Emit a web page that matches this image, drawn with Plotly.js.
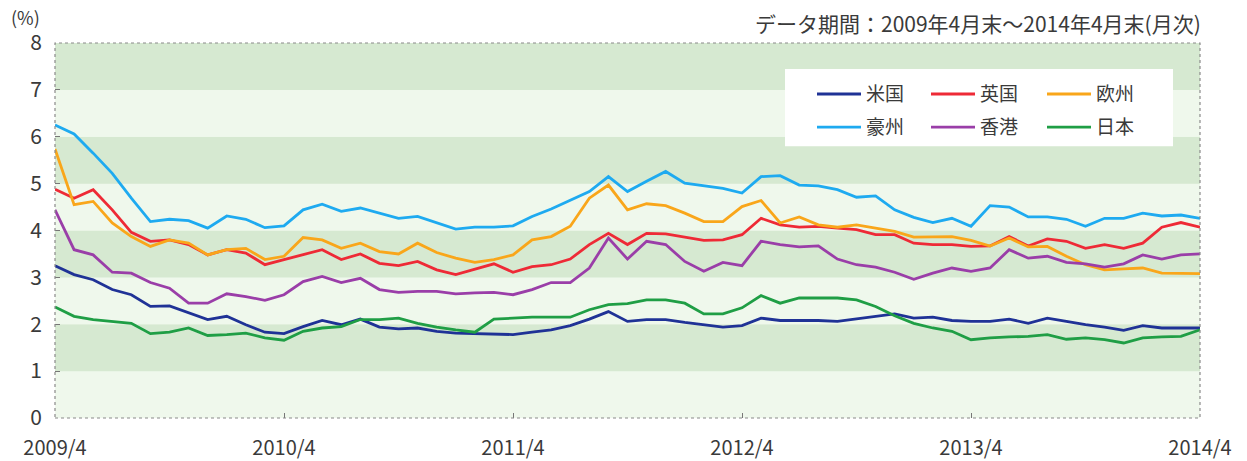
<!DOCTYPE html>
<html>
<head>
<meta charset="utf-8">
<script src="https://cdn.plot.ly/plotly-3.0.1.min.js"></script>
<style>html,body{margin:0;padding:0;background:#fff;}#chart{width:1247px;height:461px;}</style>
</head>
<body>
<div id="chart"></div>
<script>
// Month labels (2009/4 .. 2014/4, month-end)
const months = [];
for (let y = 2009, m = 4; !(y === 2014 && m === 5); ) {
  months.push(y + '/' + m);
  m++; if (m > 12) { m = 1; y++; }
}
const tickLabels = ['2009/4', '2010/4', '2011/4', '2012/4', '2013/4', '2014/4'];
const seriesNames = ['米国', '英国', '欧州', '豪州', '香港', '日本'];

const us = [3.25,3.06,2.95,2.74,2.63,2.38,2.39,2.24,2.10,2.17,1.99,1.83,1.80,1.95,2.08,1.99,2.11,1.94,1.90,1.92,1.85,1.81,1.80,1.80,1.78,1.83,1.88,1.97,2.11,2.27,2.06,2.10,2.10,2.04,1.99,1.94,1.97,2.13,2.08,2.08,2.08,2.06,2.11,2.17,2.22,2.13,2.15,2.08,2.06,2.06,2.11,2.02,2.13,2.06,1.99,1.94,1.87,1.97,1.92,1.92,1.92];
const uk = [4.88,4.69,4.87,4.44,3.96,3.77,3.80,3.70,3.48,3.59,3.52,3.27,3.38,3.48,3.59,3.38,3.50,3.30,3.25,3.34,3.16,3.06,3.18,3.29,3.11,3.23,3.27,3.39,3.70,3.94,3.70,3.94,3.93,3.86,3.79,3.80,3.91,4.26,4.12,4.07,4.09,4.05,4.02,3.91,3.91,3.73,3.70,3.70,3.66,3.67,3.87,3.67,3.82,3.77,3.62,3.70,3.62,3.73,4.07,4.17,4.07];
const eu = [5.74,4.55,4.62,4.16,3.87,3.66,3.80,3.73,3.48,3.59,3.62,3.38,3.45,3.85,3.80,3.62,3.73,3.55,3.50,3.73,3.53,3.41,3.32,3.38,3.48,3.80,3.87,4.09,4.69,4.97,4.44,4.57,4.53,4.37,4.19,4.19,4.51,4.64,4.16,4.29,4.12,4.07,4.12,4.05,3.98,3.86,3.87,3.87,3.79,3.67,3.84,3.65,3.66,3.45,3.27,3.16,3.18,3.20,3.09,3.09,3.08];
const au = [6.25,6.06,5.65,5.22,4.69,4.19,4.24,4.21,4.05,4.31,4.24,4.06,4.10,4.44,4.56,4.41,4.48,4.37,4.26,4.30,4.16,4.03,4.07,4.07,4.10,4.30,4.46,4.65,4.83,5.15,4.83,5.05,5.26,5.01,4.95,4.90,4.80,5.15,5.17,4.97,4.95,4.87,4.71,4.74,4.44,4.28,4.17,4.26,4.09,4.53,4.50,4.29,4.29,4.24,4.09,4.26,4.26,4.37,4.31,4.33,4.26];
const hk = [4.44,3.59,3.48,3.11,3.09,2.89,2.77,2.45,2.45,2.65,2.59,2.51,2.63,2.91,3.02,2.89,2.98,2.74,2.68,2.70,2.70,2.65,2.67,2.68,2.63,2.74,2.89,2.89,3.20,3.84,3.39,3.77,3.70,3.34,3.13,3.32,3.25,3.77,3.70,3.65,3.67,3.39,3.27,3.22,3.11,2.96,3.09,3.20,3.13,3.20,3.59,3.41,3.45,3.32,3.29,3.22,3.29,3.48,3.39,3.48,3.50];
const jp = [2.37,2.17,2.10,2.06,2.02,1.80,1.83,1.92,1.76,1.78,1.81,1.71,1.66,1.85,1.92,1.95,2.10,2.10,2.13,2.02,1.94,1.88,1.83,2.11,2.13,2.15,2.15,2.15,2.31,2.42,2.44,2.52,2.52,2.45,2.22,2.22,2.35,2.61,2.45,2.56,2.56,2.56,2.52,2.38,2.18,2.02,1.92,1.85,1.67,1.71,1.73,1.74,1.78,1.68,1.71,1.67,1.60,1.71,1.73,1.74,1.88];

const seriesValues = [us, uk, eu, au, hk, jp];
const colors = ['#1f3296', '#ee2a36', '#f9a61a', '#1eaaf0', '#9a3ea8', '#1f9e45'];

const FONT = '"Noto Sans CJK JP", "Noto Sans", sans-serif';
const legendIds = ['legend', 'legend2', 'legend3', 'legend4', 'legend5', 'legend6'];

const traces = seriesValues.map((vals, k) => ({
  type: 'scatter', mode: 'lines',
  name: seriesNames[k], x: months, y: vals,
  line: {color: colors[k], width: 2.8},
  legend: legendIds[k],
  hoverinfo: 'x+y+name'
}));

// background bands
const shapes = [];
for (let b = 0; b < 8; b++) {
  shapes.push({
    type: 'rect', xref: 'paper', yref: 'y', x0: 0, x1: 1, y0: b, y1: b + 1,
    fillcolor: (b % 2 === 1) ? '#d6e9d1' : '#eff8ec', line: {width: 0}, layer: 'below'
  });
}
// legend white box
shapes.push({
  type: 'rect', xref: 'paper', yref: 'paper',
  x0: (785 - 55) / 1145, x1: (1173 - 55) / 1145,
  y0: (418 - 147) / 374, y1: (418 - 70) / 374,
  fillcolor: '#ffffff', line: {width: 0}, layer: 'below'
});
// plot frame (dotted)
shapes.push({
  type: 'rect', xref: 'paper', yref: 'paper', x0: 0, x1: 1, y0: 0, y1: 1,
  line: {color: '#8a8a8a', width: 1.2, dash: 'dot'}, fillcolor: 'rgba(0,0,0,0)', layer: 'above'
});

// legend columns/rows (pixel anchors of each entry's line start and row centre)
const legCols = [818, 932, 1048];
const legRows = [95, 128];
const layout = {
  width: 1247, height: 461,
  margin: {l: 55, r: 47, t: 43, b: 43},
  paper_bgcolor: '#ffffff', plot_bgcolor: '#eff8ec',
  font: {family: FONT, color: '#3a3a3a', size: 19},
  showlegend: true,
  xaxis: {
    type: 'category', range: [0, months.length - 1],
    tickmode: 'array', tickvals: tickLabels, ticktext: tickLabels,
    ticks: 'inside', ticklen: 5, tickcolor: '#777', tickwidth: 1,
    showgrid: false, zeroline: false, showline: false,
    tickfont: {family: FONT, size: 20, color: '#3a3a3a'},
    ticklabelstandoff: 16, fixedrange: true
  },
  yaxis: {
    range: [0, 8], dtick: 1, tick0: 0,
    ticks: 'inside', ticklen: 5, tickcolor: '#777', tickwidth: 1,
    showgrid: false, zeroline: false, showline: false,
    tickfont: {family: FONT, size: 21, color: '#3a3a3a'},
    ticklabelstandoff: 12, fixedrange: true
  },
  shapes: shapes,
  annotations: [
    {xref: 'paper', yref: 'paper', x: (25 - 55) / 1145, y: (418 - 18) / 374,
     text: '(%)', showarrow: false, xanchor: 'center', yanchor: 'middle',
     font: {family: FONT, size: 18, color: '#3a3a3a'}},
    {xref: 'paper', yref: 'paper', x: (1203 - 55) / 1145, y: (418 - 24) / 374,
     text: 'データ期間：2009年4月末～2014年4月末(月次)', showarrow: false,
     xanchor: 'right', yanchor: 'middle',
     font: {family: FONT, size: 21, color: '#3a3a3a'}}
  ]
};
legendIds.forEach((id, k) => {
  const col = k % 3, row = Math.floor(k / 3);
  layout[id] = {
    orientation: 'v',
    x: (legCols[col] - 6 - 55) / 1145, xanchor: 'left',
    y: (418 - legRows[row]) / 374, yanchor: 'middle',
    bgcolor: 'rgba(0,0,0,0)', borderwidth: 0, itemwidth: 44,
    font: {family: FONT, size: 19, color: '#3a3a3a'}
  };
});

Plotly.newPlot('chart', traces, layout, {displayModeBar: false, staticPlot: true});
</script>
</body>
</html>
